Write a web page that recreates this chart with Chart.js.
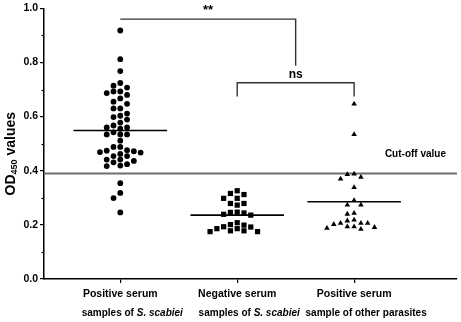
<!DOCTYPE html>
<html>
<head>
<meta charset="utf-8">
<script src="https://cdn.jsdelivr.net/npm/chart.js@4.4.1/dist/chart.umd.min.js"></script>
<style>
  html, body { margin: 0; padding: 0; background: #ffffff; }
  #wrap { width: 461px; height: 322px; }
</style>
</head>
<body>
<div id="wrap"><canvas id="c" width="461" height="322"></canvas></div>
<script>
// ---------- data ----------
const categoryLine1 = ["Positive serum", "Negative serum", "Positive serum"];
const categoryLine2 = ["samples of ", "samples of ", "sample of other parasites"];
const categoryLine2Italic = ["S. scabiei", "S. scabiei", ""];
const categoryPositions = [1, 2, 3];

const positiveScabiei = [
  0.918, 0.812, 0.768, 0.724, 0.707, 0.714, 0.693, 0.680, 0.687, 0.693,
  0.667, 0.647, 0.655, 0.630, 0.630, 0.603, 0.611, 0.589, 0.598, 0.578,
  0.560, 0.555, 0.567, 0.560, 0.534, 0.542, 0.534, 0.534, 0.511, 0.488,
  0.488, 0.474, 0.469, 0.462, 0.454, 0.454, 0.467, 0.472, 0.476, 0.441,
  0.431, 0.419, 0.417, 0.424, 0.436, 0.441, 0.354, 0.318, 0.299, 0.246
];
const negativeScabiei = [
  0.326, 0.312, 0.316, 0.298, 0.298, 0.279, 0.273, 0.279, 0.247, 0.244,
  0.236, 0.239, 0.246, 0.208, 0.201, 0.193, 0.186, 0.178, 0.175, 0.175,
  0.178, 0.186, 0.192, 0.199
];
const otherParasites = [
  0.647, 0.534, 0.388, 0.386, 0.376, 0.370, 0.338, 0.290, 0.274, 0.274,
  0.243, 0.240, 0.218, 0.215, 0.206, 0.206, 0.206, 0.202, 0.193, 0.193,
  0.191, 0.188, 0.184
];

const yTickValues = [0, 0.2, 0.4, 0.6, 0.8, 1.0];
const yTickLabels = ["0.0", "0.2", "0.4", "0.6", "0.8", "1.0"];
const yMinorTickValues = [0.1, 0.3, 0.5, 0.7, 0.9];

const cutoffValue = 0.39;
const cutoffLabel = "Cut-off value";

const starBracket = { from: 1, to: 2.5, level: 0.96, dropTo: 0.788, label: "**" };
const nsBracket = { from: 2, to: 3, level: 0.725, dropTo: 0.674, label: "ns" };

// ---------- layout helpers ----------
const X_MIN = 0.3475, X_MAX = 3.88;
const SWARM_DX = 0.058;
const SWARM_DY = 0.021;
const MEAN_HALF = 0.4;
const FONT = "'Liberation Sans', Arial, sans-serif";

function swarm(values, center) {
  const order = values.map((v, i) => i).sort((a, b) => values[b] - values[a]);
  const placed = [];
  const out = new Array(values.length);
  for (const i of order) {
    const v = values[i];
    for (let n = 0; n < 60; n++) {
      const k = n === 0 ? 0 : (n % 2 === 1 ? -Math.ceil(n / 2) : Math.ceil(n / 2));
      const ok = placed.every(p => p.k !== k || Math.abs(p.v - v) >= SWARM_DY);
      if (ok) { placed.push({ k, v }); out[i] = { x: center + k * SWARM_DX, y: v }; break; }
    }
  }
  return out;
}
const mean = a => a.reduce((s, v) => s + v, 0) / a.length;
function meanLine(values, center) {
  const m = mean(values);
  return [{ x: center - MEAN_HALF, y: m }, { x: center + MEAN_HALF, y: m }];
}
const lineDs = (data, color, width) => ({
  type: 'line', data, borderColor: color, borderWidth: width, pointRadius: 0,
  showLine: true, fill: false, tension: 0, order: 2, clip: false
});

const groups = [positiveScabiei, negativeScabiei, otherParasites];
const styles = [
  { pointStyle: 'circle', radius: 2.9 },
  { pointStyle: 'rect', radius: 3.7 },
  { pointStyle: 'triangle', radius: 3.2 }
];

const datasets = [];
groups.forEach((g, i) => {
  datasets.push({
    type: 'scatter', data: swarm(g, categoryPositions[i]),
    pointStyle: styles[i].pointStyle, pointRadius: styles[i].radius,
    pointBackgroundColor: '#000', pointBorderWidth: 0, showLine: false, order: 0, clip: false
  });
  datasets.push(lineDs(meanLine(g, categoryPositions[i]), '#000', 1.6));
});
datasets.push(lineDs([{ x: X_MIN, y: cutoffValue }, { x: X_MAX, y: cutoffValue }], '#6e6e6e', 2));
datasets.push(lineDs([
  { x: starBracket.from, y: starBracket.level },
  { x: starBracket.to, y: starBracket.level },
  { x: starBracket.to, y: starBracket.dropTo }
], '#333', 1.4));
datasets.push(lineDs([
  { x: nsBracket.from, y: nsBracket.dropTo },
  { x: nsBracket.from, y: nsBracket.level },
  { x: nsBracket.to, y: nsBracket.level },
  { x: nsBracket.to, y: nsBracket.dropTo }
], '#333', 1.4));

const textPlugin = {
  id: 'texts',
  afterDraw(chart) {
    const ctx = chart.ctx, xs = chart.scales.x, ys = chart.scales.y, ca = chart.chartArea;
    ctx.save();
    ctx.fillStyle = '#000';
    // minor y ticks
    ctx.strokeStyle = '#000'; ctx.lineWidth = 1.2;
    yMinorTickValues.forEach(v => {
      const y = Math.round(ys.getPixelForValue(v)) + 0.5;
      ctx.beginPath(); ctx.moveTo(ca.left - 2.5, y); ctx.lineTo(ca.left, y); ctx.stroke();
    });
    // x category labels
    ctx.textBaseline = 'middle';
    const l2 = `bold 10px ${FONT}`, l2i = `italic bold 10px ${FONT}`;
    categoryPositions.forEach((p, i) => {
      const cx = xs.getPixelForValue(p);
      ctx.textAlign = 'center';
      ctx.font = `bold 10.5px ${FONT}`;
      ctx.fillText(categoryLine1[i], cx, ca.bottom + 15);
      ctx.textAlign = 'left';
      ctx.font = l2;
      const w1 = ctx.measureText(categoryLine2[i]).width;
      ctx.font = l2i;
      const w2 = ctx.measureText(categoryLine2Italic[i]).width;
      const x0 = cx + 12 - (w1 + w2) / 2;
      ctx.font = l2;
      ctx.fillText(categoryLine2[i], x0, ca.bottom + 34);
      ctx.font = l2i;
      ctx.fillText(categoryLine2Italic[i], x0 + w1, ca.bottom + 34);
    });
    // y title with subscript
    ctx.save();
    ctx.translate(11, (ca.top + ca.bottom) / 2 + 10);
    ctx.rotate(-Math.PI / 2);
    ctx.textAlign = 'left';
    const big = `bold 14px ${FONT}`, small = `bold 9px ${FONT}`;
    ctx.font = big; const a = ctx.measureText('OD').width;
    ctx.font = small; const b = ctx.measureText('450').width;
    ctx.font = big; const c = ctx.measureText(' values').width;
    let x = -(a + b + c) / 2;
    ctx.font = big; ctx.fillText('OD', x, 0); x += a;
    ctx.font = small; ctx.fillText('450', x, 4); x += b;
    ctx.font = big; ctx.fillText(' values', x, 0);
    ctx.restore();
    // cut-off label
    ctx.textAlign = 'right';
    ctx.font = `bold 10px ${FONT}`;
    ctx.fillText(cutoffLabel, ca.right - 11, ys.getPixelForValue(cutoffValue) - 19);
    // significance labels
    ctx.textAlign = 'center';
    ctx.font = `bold 13px ${FONT}`;
    ctx.fillText(starBracket.label, xs.getPixelForValue((starBracket.from + starBracket.to) / 2), ys.getPixelForValue(starBracket.level) - 9);
    ctx.font = `bold 12px ${FONT}`;
    ctx.fillText(nsBracket.label, xs.getPixelForValue((nsBracket.from + nsBracket.to) / 2), ys.getPixelForValue(nsBracket.level) - 8);
    ctx.restore();
  }
};

new Chart(document.getElementById('c'), {
  type: 'scatter',
  data: { datasets },
  options: {
    responsive: false,
    animation: false,
    devicePixelRatio: 1,
    layout: { padding: { top: 7, right: 0, left: 0, bottom: 0 } },
    plugins: { legend: { display: false }, tooltip: { enabled: false } },
    scales: {
      x: {
        type: 'linear', min: X_MIN, max: X_MAX,
        afterBuildTicks: s => { s.ticks = categoryPositions.map(v => ({ value: v })); },
        afterFit: s => { s.height = 43; },
        ticks: { display: false },
        grid: { drawOnChartArea: false, drawTicks: true, tickLength: 4, color: '#000', lineWidth: 1.2 },
        border: { display: true, color: '#000', width: 1.5 }
      },
      y: {
        type: 'linear', min: 0, max: 1,
        afterBuildTicks: s => { s.ticks = yTickValues.map(v => ({ value: v })); },
        afterFit: s => { s.width = 44; },
        ticks: {
          padding: 2, color: '#000',
          font: { family: FONT, size: 10.5, weight: 'bold' },
          callback: (v) => { const i = yTickValues.findIndex(t => Math.abs(t - v) < 1e-6); return i >= 0 ? yTickLabels[i] : ''; }
        },
        grid: { drawOnChartArea: false, drawTicks: true, tickLength: 4, color: '#000', lineWidth: 1.2 },
        border: { display: true, color: '#000', width: 1.5 }
      }
    }
  },
  plugins: [textPlugin]
});
</script>
</body>
</html>
